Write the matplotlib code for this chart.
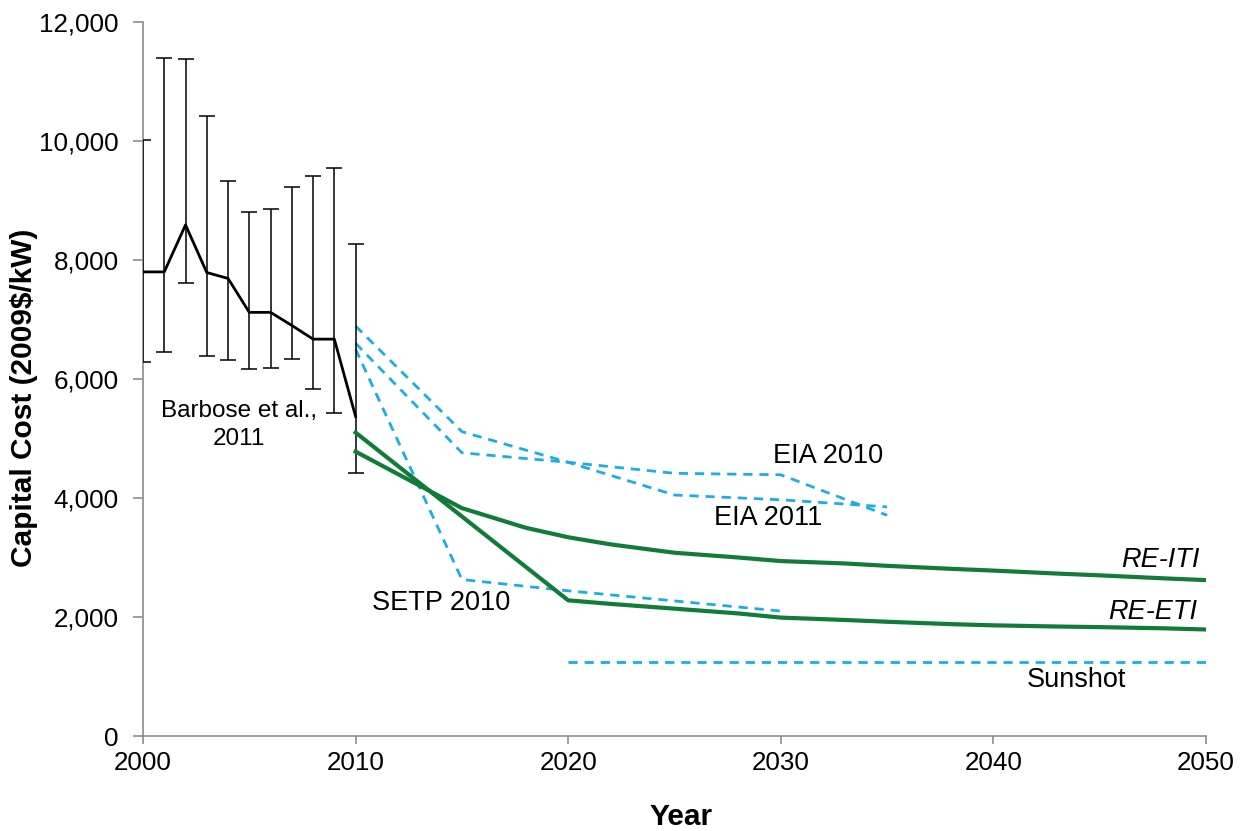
import numpy as np
import matplotlib
matplotlib.use('Agg')
import matplotlib.pyplot as plt

plt.rcParams['font.family'] = ['Liberation Sans', 'DejaVu Sans']

# Barbose et al., 2011 (historical, with error bars)
hist_years = [2000, 2001, 2002, 2003, 2004, 2005, 2006, 2007, 2008, 2009, 2010]
hist_cost = [7800, 7800, 8590, 7790, 7690, 7120, 7120, 6900, 6670, 6670, 5370]
hist_high = [10020, 11390, 11370, 10420, 9330, 8800, 8850, 9220, 9420, 9550, 8270]
hist_low = [6290, 6460, 7610, 6380, 6320, 6160, 6190, 6340, 5840, 5430, 4420]

# EIA / SETP projections (dashed)
eia_years = [2010, 2015, 2020, 2025, 2030, 2035]
eia2010 = [6600, 4760, 4600, 4415, 4390, 3710]
eia2011 = [6890, 5115, 4600, 4050, 3970, 3850]
setp_years = [2010, 2015, 2020, 2025, 2030]
setp2010 = [6500, 2630, 2440, 2270, 2100]
sunshot_years = [2020, 2050]
sunshot = [1240, 1240]

# RE futures scenarios
iti_years = [2010, 2015, 2018, 2020, 2022, 2025, 2028, 2030, 2033, 2035, 2038, 2040, 2043, 2045, 2048, 2050]
re_iti = [4780, 3830, 3500, 3340, 3220, 3080, 3000, 2940, 2900, 2860, 2810, 2780, 2730, 2700, 2650, 2620]
eti_years = [2010, 2020, 2022, 2025, 2028, 2030, 2033, 2035, 2038, 2040, 2043, 2045, 2048, 2050]
re_eti = [5100, 2280, 2220, 2140, 2060, 1990, 1950, 1920, 1880, 1860, 1840, 1830, 1810, 1790]

blue = '#1BADE3'
green = '#107C38'
axis_gray = '#8C8C8C'

W, H = 1245, 831
fig = plt.figure(figsize=(W / 100, H / 100), dpi=100)
ax = fig.add_axes([143 / W, (H - 736) / H, 1063 / W, 714 / H])

h = np.array(hist_cost)
yerr = [h - np.array(hist_low), np.array(hist_high) - h]
ax.errorbar(hist_years, hist_cost, yerr=yerr, color='black', lw=2.0,
            elinewidth=1.1, ecolor='black', capsize=6, capthick=1.1, zorder=3)

dash = dict(color=blue, lw=2.0, dashes=(3.3, 2.5))
ax.plot(eia_years, eia2010, **dash)
ax.plot(eia_years, eia2011, **dash)
ax.plot(setp_years, setp2010, **dash)
ax.plot(sunshot_years, sunshot, **dash)

ax.plot(iti_years, re_iti, color=green, lw=3.0, zorder=4)
ax.plot(eti_years, re_eti, color=green, lw=3.0, zorder=4)

fs = 19.5
ax.text(2004.5, 5650, 'Barbose et al.,\n2011', ha='center', va='top', fontsize=17.5, linespacing=1.35)
ax.text(2032.2, 4700, 'EIA 2010', ha='center', va='center', fontsize=fs)
ax.text(2029.4, 3660, 'EIA 2011', ha='center', va='center', fontsize=fs)
ax.text(2014.0, 2235, 'SETP 2010', ha='center', va='center', fontsize=fs)
ax.text(2049.7, 2960, 'RE-ITI', ha='right', va='center', fontsize=fs, style='italic')
ax.text(2049.6, 2085, 'RE-ETI', ha='right', va='center', fontsize=fs, style='italic')
ax.text(2043.9, 935, 'Sunshot', ha='center', va='center', fontsize=fs)

ax.set_xlim(2000, 2050)
ax.set_ylim(0, 12000)
ax.set_xticks(np.arange(2000, 2051, 10))
ax.set_yticks(np.arange(0, 12001, 2000))
ax.yaxis.set_major_formatter(matplotlib.ticker.FuncFormatter(lambda v, p: f'{int(v):,}'))

for s in ['top', 'right']:
    ax.spines[s].set_visible(False)
for s in ['left', 'bottom']:
    ax.spines[s].set_color(axis_gray)
    ax.spines[s].set_linewidth(1.2)
ax.tick_params(axis='both', direction='out', width=1.2, color=axis_gray,
               labelsize=18.7, labelcolor='black')
ax.tick_params(axis='x', length=6, pad=5)
ax.tick_params(axis='y', length=7.5, pad=10)

fig.text(681 / W, 1 - 831 / H, 'Year', fontsize=21.5, fontweight='bold', ha='center', va='bottom')
fig.text(24 / W, 1 - 398 / H, 'Capital Cost (2009$/kW)', fontsize=21.5, fontweight='bold',
         rotation=90, ha='center', va='center')

fig.savefig('out.png', dpi=100)
